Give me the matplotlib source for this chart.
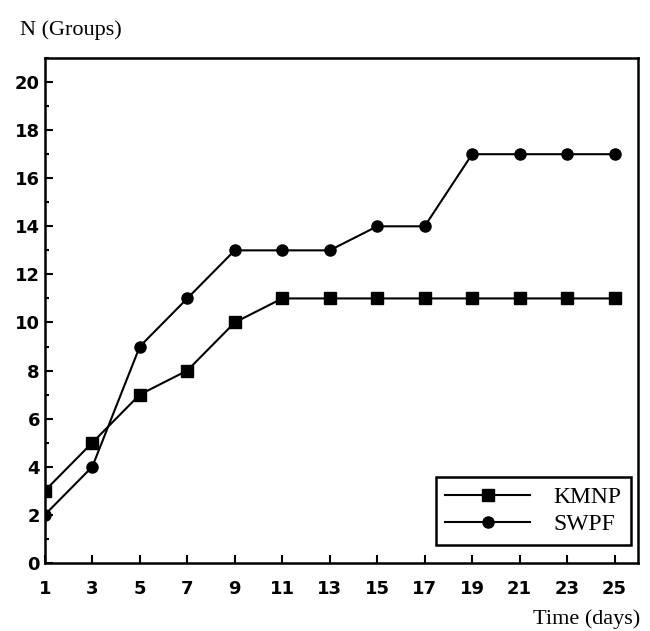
import matplotlib
matplotlib.use("Agg")
import matplotlib.pyplot as plt
from matplotlib.ticker import MultipleLocator

days = [1, 3, 5, 7, 9, 11, 13, 15, 17, 19, 21, 23, 25]
kmnp = [3, 5, 7, 8, 10, 11, 11, 11, 11, 11, 11, 11, 11]
swpf = [2, 4, 9, 11, 13, 13, 13, 14, 14, 17, 17, 17, 17]
xticks = [1, 3, 5, 7, 9, 11, 13, 15, 17, 19, 21, 23, 25]
yticks = [0, 2, 4, 6, 8, 10, 12, 14, 16, 18, 20]

fig = plt.figure(figsize=(6.5, 6.31), dpi=100)
ax = fig.add_axes([0.069, 0.108, 0.913, 0.800])

ax.plot(days, kmnp, color="black", lw=1.5, marker="s", ms=8, label="KMNP")
ax.plot(days, swpf, color="black", lw=1.5, marker="o", ms=8, label="SWPF")

ax.set_xlim(1, 26)
ax.set_ylim(0, 21)
ax.set_xticks(xticks)
ax.set_yticks(yticks)
ax.yaxis.set_minor_locator(MultipleLocator(1))
ax.tick_params(axis="both", which="both", direction="in", width=1.5, color="black")
ax.tick_params(axis="both", which="major", length=6, labelsize=13)
ax.tick_params(axis="y", which="minor", length=3)
ax.tick_params(axis="x", pad=12)
for lab in ax.get_xticklabels() + ax.get_yticklabels():
    lab.set_fontweight("bold")
for s in ax.spines.values():
    s.set_linewidth(1.8)

fig.text(0.03, 0.953, "N (Groups)", fontsize=16, family="Liberation Serif", ha="left", va="center")
fig.text(0.985, 0.019, "Time (days)", fontsize=16, family="Liberation Serif", ha="right", va="center")

leg = ax.legend(loc="lower right", bbox_to_anchor=(0.988, 0.036), borderaxespad=0,
                fancybox=False, edgecolor="black", framealpha=1, handlelength=3.6,
                labelspacing=0.25, handletextpad=1.0,
                prop={"family": "Liberation Serif", "size": 17}, borderpad=0.4)
leg.get_frame().set_linewidth(1.8)

fig.savefig("out.png", dpi=100)
